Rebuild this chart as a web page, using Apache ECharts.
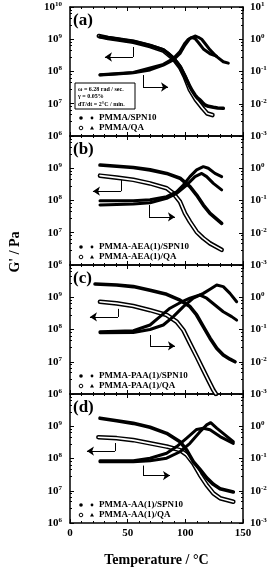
<!DOCTYPE html>
<html><head><meta charset="utf-8">
<script src="https://cdn.jsdelivr.net/npm/echarts@6/dist/echarts.min.js"></script>
<style>html,body{margin:0;padding:0;background:#fff}#c{width:275px;height:569px}</style>
</head><body><div id="c"></div>
<script>
// ---------- tick / label data ----------
const xTicks = [0, 50, 100, 150];
const gRange = [1e6, 1e10];
const tanRange = [1e-3, 1e1];
const panelLabels = ['(a)', '(b)', '(c)', '(d)'];
const spnNames = ['PMMA/SPN10', 'PMMA-AEA(1)/SPN10', 'PMMA-PAA(1)/SPN10', 'PMMA-AA(1)/SPN10'];
const qaNames = ['PMMA/QA', 'PMMA-AEA(1)/QA', 'PMMA-PAA(1)/QA', 'PMMA-AA(1)/QA'];
const condText = ['\u03c9 = 6.28 rad / sec.', '\u03b3 = 0.05%', 'dT/dt = 2\u00b0C / min.'];

// ---------- panel (a) ----------
const aSpnG = [[26,1.20e9],[33,1.12e9],[40.5,1.02e9],[47,9.33e8],[54.9,8.51e8],[62,7.41e8],[69.4,6.31e8],[75,5.50e8],[80.9,4.68e8],[85.5,3.55e8],[89.6,2.57e8],[92.5,1.95e8],[95.4,1.41e8],[97.5,1.0e8],[99.7,6.92e7],[102,4.79e7],[104,3.39e7],[106,2.51e7],[108.4,1.86e7],[110.5,1.51e7],[112.7,1.32e7],[115,1.07e7],[117.1,9.12e6],[120,8.32e6],[124.3,7.76e6],[128,7.41e6],[132.9,7.24e6]];
const aQaG = [[25,1.26e9],[33,1.10e9],[40.5,1.0e9],[54.9,8.32e8],[69.4,6.17e8],[80.9,4.47e8],[89.6,2.51e8],[95.4,1.35e8],[99.7,6.6e7],[104,2.69e7],[109.2,1.32e7],[115,7.24e6],[119,5.01e6],[123.5,4.47e6]];
const aSpnTan = [[26,0.0776],[40.5,0.0832],[54.9,0.0912],[69.4,0.112],[80.9,0.158],[89.6,0.229],[95.4,0.363],[99.7,0.661],[104,1.07],[108.4,1.26],[111.3,1.15],[114.2,1.0],[117.1,0.741],[121.4,0.468],[127.2,0.288],[132.9,0.200],[137.3,0.182]];
const aQaTan = [[26,0.0794],[54.9,0.0933],[80.9,0.166],[89.6,0.251],[95.4,0.417],[99.7,0.759],[102.6,1.0],[105.5,1.12],[108.4,1.05],[111.3,0.794],[115.6,0.501],[121.4,0.355],[127,0.30]];
const aArrows = [[[54.6,5.75e8],[54.6,2.82e8],[30.3,2.82e8]], [[63.3,7.76e7],[63.3,3.31e7],[85,3.31e7]]];

// ---------- panel (b) ----------
const bSpnG = [[26,1.26e9],[40.5,1.15e9],[54.9,1.05e9],[69.4,8.91e8],[83.8,6.92e8],[95.4,4.90e8],[104,2.69e8],[109.8,1.48e8],[115.6,7.24e7],[121.4,3.98e7],[127.2,2.63e7],[131.5,1.95e7]];
const bQaG = [[26,5.89e8],[40.5,5.13e8],[54.9,4.37e8],[69.4,3.39e8],[83.8,2.40e8],[89.6,1.66e8],[95.4,9.12e7],[99.7,3.98e7],[104,2.19e7],[109.8,1.07e7],[115.6,6.76e6],[121.4,4.68e6],[131.5,2.95e6]];
const bSpnTan = [[26,0.0977],[54.9,0.0977],[69.4,0.105],[83.8,0.132],[92.5,0.186],[98.3,0.302],[104,0.550],[109.8,0.891],[115.6,1.12],[119.9,1.0],[125.7,0.692],[131.5,0.550]];
const bQaTan = [[26,0.0724],[54.9,0.0776],[69.4,0.0851],[83.8,0.117],[92.5,0.166],[101.2,0.302],[108.4,0.550],[114.2,0.692],[118.5,0.550],[124.3,0.339],[131.5,0.214]];
const bArrows = [[[44.2,4.37e8],[44.2,1.95e8],[19.9,1.95e8]], [[68.5,7.24e7],[68.5,3.09e7],[91,3.09e7]]];

// ---------- panel (c) ----------
const cSpnG = [[21.7,2.57e9],[40.5,2.40e9],[54.9,2.14e9],[69.4,1.66e9],[83.8,1.23e9],[95.4,8.13e8],[104,5.13e8],[109.8,2.82e8],[115.6,1.23e8],[121.4,5.37e7],[127.2,2.63e7],[132.9,1.62e7],[138.7,1.20e7],[143.1,1.0e7]];
const cQaG = [[26,7.24e8],[40.5,6.46e8],[54.9,5.37e8],[69.4,3.98e8],[83.8,2.82e8],[92.5,1.74e8],[98.3,9.55e7],[104,3.72e7],[109.8,1.45e7],[115.6,5.50e6],[119.9,2.69e6],[124.3,1.32e6],[126.5,1.0e6]];
const cSpnTan = [[26,0.0851],[54.9,0.0912],[69.4,0.138],[78,0.251],[86.7,0.457],[95.4,0.676],[104,0.933],[112.7,1.17],[118.5,0.933],[125.7,0.575],[132.9,0.355],[140.2,0.251],[144.5,0.195]];
const cQaTan = [[26,0.0794],[54.9,0.0813],[69.4,0.1],[80.9,0.138],[89.6,0.251],[98.3,0.513],[106.9,0.933],[115.6,1.32],[121.4,1.78],[127.2,2.40],[132.9,2.14],[138.7,1.32],[144.5,0.724]];
const cArrows = [[[41.6,4.37e8],[41.6,2.45e8],[17.3,2.45e8]], [[69.4,6.76e7],[69.4,3.09e7],[91,3.09e7]]];

// ---------- panel (d) ----------
const dSpnG = [[26,1.78e9],[40.5,1.48e9],[54.9,1.23e9],[69.4,9.33e8],[83.8,6.03e8],[95.4,3.31e8],[101.2,1.82e8],[106.9,7.94e7],[112.7,4.57e7],[118.5,2.51e7],[124.3,1.58e7],[130.1,1.15e7],[141.6,9.12e6]];
const dQaG = [[24.6,4.57e8],[40.5,4.27e8],[54.9,3.72e8],[69.4,2.95e8],[83.8,2.34e8],[95.4,1.82e8],[101.2,1.29e8],[106.9,7.08e7],[112.7,3.09e7],[118.5,1.51e7],[124.3,8.32e6],[130.1,5.89e6],[141.6,4.57e6]];
const dSpnTan = [[26,0.0851],[54.9,0.0851],[69.4,0.102],[83.8,0.145],[92.5,0.234],[101.2,0.427],[109.8,0.794],[115.6,0.871],[121.4,0.776],[130.1,0.479],[141.6,0.295]];
const dQaTan = [[26,0.0794],[54.9,0.0794],[69.4,0.0851],[83.8,0.102],[95.4,0.162],[104,0.295],[112.7,0.676],[118.5,1.10],[122,1.29],[127.2,0.871],[134.4,0.537],[141.6,0.331]];
const dArrows = [[[39,3.02e8],[39,1.70e8],[14.7,1.70e8]], [[63.3,6.03e7],[63.3,2.95e7],[86.7,2.95e7]]];

const panels = [
  {spnG:aSpnG, qaG:aQaG, spnT:aSpnTan, qaT:aQaTan, arrows:aArrows},
  {spnG:bSpnG, qaG:bQaG, spnT:bSpnTan, qaT:bQaTan, arrows:bArrows},
  {spnG:cSpnG, qaG:cQaG, spnT:cSpnTan, qaT:cQaTan, arrows:cArrows},
  {spnG:dSpnG, qaG:dQaG, spnT:dSpnTan, qaT:dQaTan, arrows:dArrows}
];

// ---------- layout ----------
const FONT = "'Liberation Serif','Times New Roman',serif";
const L = 70, R = 32, TOP0 = 7, H = 129;
const chart = echarts.init(document.getElementById('c'));
const grid = [], xAxis = [], yAxis = [], series = [], graphic = [];
const rich = {
  b: {fontFamily: FONT, fontWeight: 'bold', fontSize: 11, color: '#000', lineHeight: 13},
  s: {fontFamily: FONT, fontWeight: 'bold', fontSize: 7, color: '#000', verticalAlign: 'top', lineHeight: 13}
};
const expFmt = v => '{b|10}{s|' + Math.round(Math.log10(v)) + '}';
const axLine = {show: true, onZero: false, lineStyle: {color: '#000', width: 1.5}};

panels.forEach((p, i) => {
  const top = TOP0 + H * i;
  const last = i === panels.length - 1;
  grid.push({left: L, right: R, top: top, height: H});
  const xBase = {
    type: 'value', gridIndex: i, min: xTicks[0], max: xTicks[xTicks.length - 1], interval: xTicks[1] - xTicks[0],
    axisLine: axLine, splitLine: {show: false},
    axisTick: {inside: true, length: 4, lineStyle: {color: '#000', width: 1}},
    minorTick: {show: true, splitNumber: 5, length: 2, lineStyle: {color: '#000', width: 1}}
  };
  xAxis.push(Object.assign({}, xBase, {
    position: 'bottom',
    axisLabel: {show: last, margin: 5, fontFamily: FONT, fontWeight: 'bold', fontSize: 11, color: '#000'},
    name: last ? 'Temperature / \u00b0C' : '', nameLocation: 'middle', nameGap: 30,
    nameTextStyle: {fontFamily: FONT, fontWeight: 'bold', fontSize: 14, color: '#000'}
  }));
  xAxis.push(Object.assign({}, xBase, {position: 'top', axisLabel: {show: false}}));
  const yBase = {
    type: 'log', logBase: 10, gridIndex: i, splitNumber: 4,
    axisLine: axLine, splitLine: {show: false},
    axisTick: {inside: true, length: 4, lineStyle: {color: '#000', width: 1}},
    minorTick: {show: true, splitNumber: 5, length: 2, lineStyle: {color: '#000', width: 1}}
  };
  yAxis.push(Object.assign({}, yBase, {
    position: 'left', min: gRange[0], max: gRange[1],
    axisLabel: {formatter: expFmt, rich: rich, margin: 8, showMaxLabel: i === 0}
  }));
  yAxis.push(Object.assign({}, yBase, {
    position: 'right', min: tanRange[0], max: tanRange[1],
    axisLabel: {formatter: expFmt, rich: rich, margin: 7, showMaxLabel: i === 0}
  }));
  const gi = 2 * i, ti = 2 * i + 1;
  const line = (data, yi, w, color, z) => ({
    type: 'line', data: data, xAxisIndex: 2 * i, yAxisIndex: yi, showSymbol: false, symbol: 'none',
    lineStyle: {color: color, width: w, join: 'round', cap: 'round'}, z: z, silent: true, animation: false, clip: true
  });
  series.push(line(p.qaG, gi, 4.6, '#000', 2));
  series.push(line(p.qaG, gi, 1.6, '#fff', 3));
  series.push(line(p.spnG, gi, 3.6, '#000', 4));
  series.push(line(p.qaT, ti, 3, '#000', 4));
  series.push(line(p.spnT, ti, 3, '#000', 4));
  const lineBase = {
    type: 'lines', coordinateSystem: 'cartesian2d', xAxisIndex: 2 * i, yAxisIndex: gi,
    lineStyle: {color: '#000', width: 1, opacity: 1}, silent: true, animation: false, z: 5
  };
  // arrow stubs (vertical) and arrow shafts with heads (horizontal)
  series.push(Object.assign({}, lineBase, {symbol: ['none', 'none'],
    data: p.arrows.map(c => ({coords: [c[0], c[1]]}))}));
  series.push(Object.assign({}, lineBase, {symbol: ['none', 'arrow'], symbolSize: [5, 7],
    data: p.arrows.map(c => ({coords: [c[1], c[2]]}))}));
  // panel label
  graphic.push({type: 'text', x: L + 3, y: top + 5, z: 10,
    style: {text: panelLabels[i], font: 'bold 17px ' + FONT, fill: '#000', verticalAlign: 'top'}});
  // legend
  const rows = [[spnNames[i], true], [qaNames[i], false]];
  rows.forEach((r, k) => {
    const y = top + 111 + k * 10;
    graphic.push({type: 'circle', z: 10, shape: {cx: 81, cy: y, r: 1.8},
      style: r[1] ? {fill: '#000'} : {fill: '#fff', stroke: '#000', lineWidth: 1}});
    if (r[1]) graphic.push({type: 'circle', z: 10, shape: {cx: 92, cy: y, r: 1.4}, style: {fill: '#000'}});
    else graphic.push({type: 'polygon', z: 10, shape: {points: [[92, y - 2], [94, y + 1.6], [90, y + 1.6]]}, style: {fill: '#000'}});
    graphic.push({type: 'text', z: 10, x: 99, y: y,
      style: {text: r[0], font: 'bold 9px ' + FONT, fill: '#000', verticalAlign: 'middle'}});
  });
});
// condition box in panel (a)
graphic.push({type: 'rect', z: 10, shape: {x: 75, y: 83, width: 60, height: 26}, style: {fill: '#fff', stroke: '#000', lineWidth: 1}});
condText.forEach((t, k) => graphic.push({type: 'text', z: 11, x: 78, y: 89 + k * 7.5,
  style: {text: t, font: 'bold 6px ' + FONT, fill: '#000', verticalAlign: 'middle'}}));
// y axis name
graphic.push({type: 'text', x: 15, y: 252, rotation: Math.PI / 2, z: 10,
  style: {text: "G' / Pa", font: 'bold 14px ' + FONT, fill: '#000', align: 'center', verticalAlign: 'middle'}});

chart.setOption({animation: false, backgroundColor: '#fff', grid, xAxis, yAxis, series, graphic});
</script></body></html>
